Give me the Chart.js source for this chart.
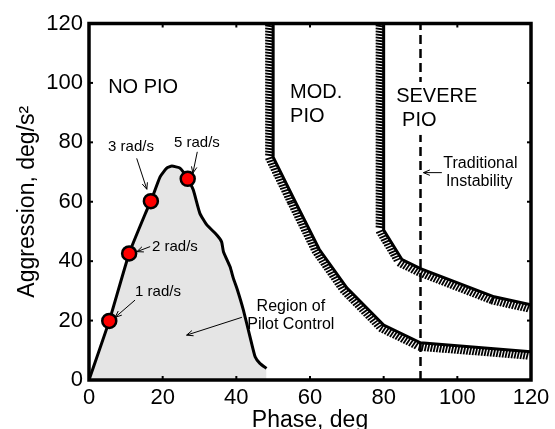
<!DOCTYPE html>
<html>
<head>
<meta charset="utf-8">
<script src="https://cdn.jsdelivr.net/npm/chart.js@4.4.1/dist/chart.umd.min.js"></script>
<style>
  html, body { margin: 0; padding: 0; background: #fff; }
  #wrap { width: 555px; height: 429px; }
</style>
</head>
<body>
<div id="wrap"><canvas id="pio"></canvas></div>
<script>
// region of pilot control (phase deg vs aggression deg/s^2)
const regionPhase = [0, 5.5, 10.9, 15.7, 16.8, 19.3, 21.1, 22.5, 24.7, 26.8, 28.3, 30.1, 32.0, 34.7, 36.0, 36.5, 38.3, 39.2, 40.3, 41.9, 43.7, 45.1, 46.4, 48.2];
const regionAggr  = [0, 19.9, 42.6, 57.2, 60.2, 68.4, 71.3, 72.0, 71.3, 67.7, 64.0, 56.1, 52.2, 48.8, 46.5, 43.2, 38.1, 34.2, 30.3, 23.6, 14.6, 7.8, 5.6, 3.9];

// input frequencies marked on the boundary
const freqPhase  = [5.5, 10.9, 16.8, 26.8];
const freqAggr   = [19.9, 42.6, 60.2, 67.7];
const freqLabels = ['1 rad/s', '2 rad/s', '3 rad/s', '5 rad/s'];

// moderate / severe PIO boundaries
const modPhase = [50, 50, 56, 62.5, 70, 80, 90, 120];
const modAggr  = [120, 75, 60, 44, 31, 18.5, 12.5, 9.5];
const severePhase = [80, 80, 85, 90, 110, 120];
const severeAggr  = [120, 50.5, 40.5, 37.5, 28, 25.3];

// traditional instability line
const instabPhase = [90, 90];
const instabAggr  = [0, 120];

const xTicks = [0, 20, 40, 60, 80, 100, 120];
const yTicks = [0, 20, 40, 60, 80, 100, 120];

const FONT = '"Liberation Sans", Arial, sans-serif';

// text notes, anchored in data units
const notes = [
  { text: 'NO PIO', x: 5.2, y: 98.3, size: 20, align: 'left' },
  { text: 'MOD.', x: 54.6, y: 96.9, size: 20, align: 'left' },
  { text: 'PIO', x: 54.6, y: 88.7, size: 20, align: 'left' },
  { text: 'SEVERE', x: 83.4, y: 95.6, size: 20, align: 'left', bg: true },
  { text: 'PIO', x: 85.0, y: 87.2, size: 20, align: 'left', bg: true },
  { text: 'Traditional', x: 96.2, y: 73.0, size: 16, align: 'left' },
  { text: 'Instability', x: 96.9, y: 66.7, size: 16, align: 'left' },
  { text: freqLabels[2], x: 11.4, y: 78.4, size: 15, align: 'center' },
  { text: freqLabels[3], x: 29.3, y: 79.8, size: 15, align: 'center' },
  { text: freqLabels[1], x: 17.1, y: 44.8, size: 15, align: 'left' },
  { text: freqLabels[0], x: 12.5, y: 29.6, size: 15, align: 'left' },
  { text: 'Region of', x: 54.8, y: 24.6, size: 16, align: 'center' },
  { text: 'Pilot Control', x: 54.8, y: 18.5, size: 16, align: 'center' }
];

const arrows = [
  { from: [12.95, 74.6], to: [15.7, 64.2] },
  { from: [29.4, 76.8], to: [28.2, 69.6] },
  { from: [16.6, 44.9], to: [13.0, 43.2] },
  { from: [12.5, 26.9], to: [7.1, 21.1] },
  { from: [41.5, 21.1], to: [26.5, 15.1] },
  { from: [95.8, 69.8], to: [90.8, 69.8] }
];

const pts = (xs, ys) => xs.map((x, i) => ({ x: x, y: ys[i] }));

// short hatch strokes on one side of the PIO boundaries
const hatchPlugin = {
  id: 'hatch',
  afterDatasetsDraw(chart) {
    const ctx = chart.ctx, a = chart.chartArea;
    ctx.save();
    ctx.beginPath();
    ctx.rect(a.left, a.top, a.right - a.left, a.bottom - a.top);
    ctx.clip();
    ctx.strokeStyle = '#000';
    ctx.lineWidth = 1.8;
    chart.data.datasets.forEach((ds, i) => {
      if (!ds.hatch) return;
      const p = chart.getDatasetMeta(i).data;
      for (let k = 0; k < p.length - 1; k++) {
        const dx = p[k + 1].x - p[k].x, dy = p[k + 1].y - p[k].y;
        const len = Math.hypot(dx, dy);
        const ux = dx / len, uy = dy / len, nx = -uy, ny = ux;
        for (let s = 0; s < len; s += 3) {
          const px = p[k].x + ux * s, py = p[k].y + uy * s;
          ctx.beginPath();
          ctx.moveTo(px, py);
          ctx.lineTo(px + nx * 8 - ux * 1.2, py + ny * 8 - uy * 1.2);
          ctx.stroke();
        }
      }
    });
    ctx.restore();
  }
};

// box frame, inward ticks, notes and arrows
const decorPlugin = {
  id: 'decor',
  afterDraw(chart) {
    const { ctx, chartArea: a, scales: { x, y } } = chart;
    const seg = (x1, y1, x2, y2) => { ctx.beginPath(); ctx.moveTo(x1, y1); ctx.lineTo(x2, y2); ctx.stroke(); };
    ctx.save();
    ctx.strokeStyle = '#000';
    ctx.lineWidth = 2;
    xTicks.forEach(v => {
      const px = x.getPixelForValue(v);
      seg(px, a.bottom, px, a.bottom - 4);
      seg(px, a.top, px, a.top + 4);
    });
    yTicks.forEach(v => {
      const py = y.getPixelForValue(v);
      seg(a.left, py, a.left + 4, py);
      seg(a.right, py, a.right - 4, py);
    });
    ctx.lineWidth = 3.5;
    ctx.strokeRect(a.left, a.top, a.right - a.left, a.bottom - a.top);

    ctx.textBaseline = 'middle';
    notes.forEach(n => {
      ctx.font = n.size + 'px ' + FONT;
      ctx.textAlign = n.align;
      const tx = x.getPixelForValue(n.x), ty = y.getPixelForValue(n.y);
      if (n.bg) {
        const w = ctx.measureText(n.text).width;
        const left = n.align === 'center' ? tx - w / 2 : tx;
        ctx.fillStyle = '#fff';
        ctx.fillRect(left - 3, ty - n.size * 0.7, w + 6, n.size * 1.4);
      }
      ctx.fillStyle = '#000';
      ctx.fillText(n.text, tx, ty);
    });

    ctx.lineWidth = 1;
    arrows.forEach(ar => {
      const x1 = x.getPixelForValue(ar.from[0]), y1 = y.getPixelForValue(ar.from[1]);
      const x2 = x.getPixelForValue(ar.to[0]), y2 = y.getPixelForValue(ar.to[1]);
      seg(x1, y1, x2, y2);
      const ang = Math.atan2(y2 - y1, x2 - x1);
      [0.4, -0.4].forEach(d => seg(x2, y2, x2 - 7 * Math.cos(ang + d), y2 - 7 * Math.sin(ang + d)));
    });
    ctx.restore();
  }
};

const tickFont = { family: FONT, size: 22 };

new Chart(document.getElementById('pio').getContext('2d'), {
  type: 'line',
  data: {
    datasets: [
      {
        data: pts(regionPhase, regionAggr),
        order: 5,
        borderColor: '#000',
        borderWidth: 3,
        backgroundColor: '#e5e5e5',
        fill: 'origin',
        pointRadius: 0,
        tension: 0.15
      },
      {
        data: pts(modPhase, modAggr),
        order: 4,
        borderColor: '#000',
        borderWidth: 3,
        pointRadius: 0,
        fill: false,
        hatch: true
      },
      {
        data: pts(severePhase, severeAggr),
        order: 3,
        borderColor: '#000',
        borderWidth: 3,
        pointRadius: 0,
        fill: false,
        hatch: true
      },
      {
        data: pts(instabPhase, instabAggr),
        order: 2,
        borderColor: '#000',
        borderWidth: 2.5,
        borderDash: [9, 5],
        pointRadius: 0,
        fill: false
      },
      {
        data: pts(freqPhase, freqAggr),
        order: 0,
        showLine: false,
        pointRadius: 7,
        pointBackgroundColor: '#ff0000',
        pointBorderColor: '#000',
        pointBorderWidth: 2.5
      }
    ]
  },
  options: {
    responsive: true,
    maintainAspectRatio: false,
    animation: false,
    layout: { padding: { left: 0, top: 23.5, right: 24, bottom: 0 } },
    plugins: { legend: { display: false }, tooltip: { enabled: false } },
    scales: {
      x: {
        type: 'linear',
        min: 0,
        max: 120,
        grid: { display: false, drawTicks: false },
        border: { display: false },
        afterBuildTicks: s => { s.ticks = xTicks.map(v => ({ value: v })); },
        afterFit: s => { s.height = 49; },
        ticks: { font: tickFont, color: '#000', padding: 5, maxRotation: 0 },
        title: {
          display: true,
          text: 'Phase, deg',
          color: '#000',
          font: { family: FONT, size: 23 },
          padding: { top: 0, bottom: -5 }
        }
      },
      y: {
        type: 'linear',
        min: 0,
        max: 120,
        grid: { display: false, drawTicks: false },
        border: { display: false },
        afterBuildTicks: s => { s.ticks = yTicks.map(v => ({ value: v })); },
        afterFit: s => { s.width = 89; },
        ticks: { font: tickFont, color: '#000', padding: 6 },
        title: {
          display: true,
          text: 'Aggression, deg/s²',
          color: '#000',
          font: { family: FONT, size: 23 },
          padding: { top: 14, bottom: 0 }
        }
      }
    }
  },
  plugins: [hatchPlugin, decorPlugin]
});
</script>
</body>
</html>
